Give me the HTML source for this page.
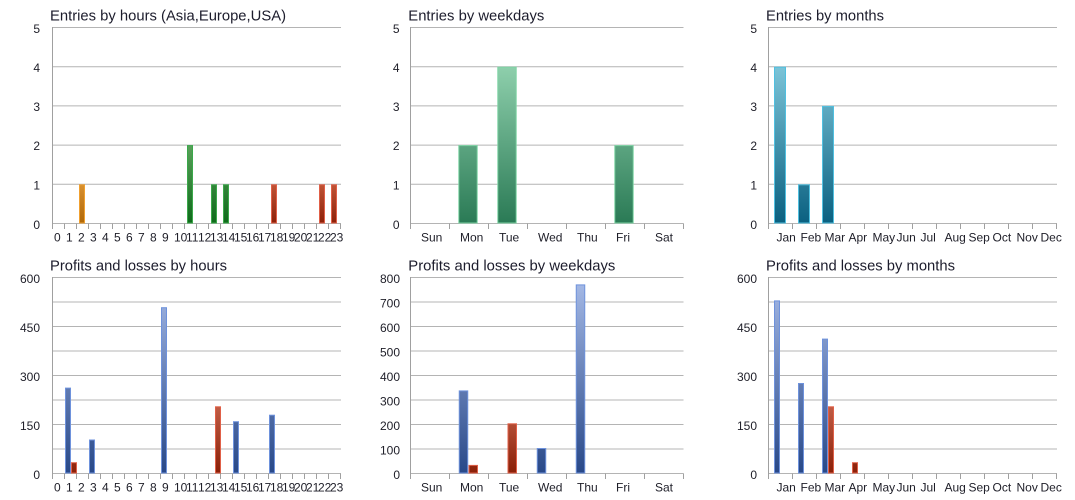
<!DOCTYPE html>
<html>
<head>
<meta charset="utf-8">
<style>
html,body{margin:0;padding:0;background:#fff;}
svg{display:block;}
.t{font-family:"Liberation Sans",Arial,sans-serif;font-size:14.5px;fill:#1c1c2c;}
.l{font-family:"Liberation Sans",Arial,sans-serif;font-size:12px;fill:#1e1e28;}
.g{stroke:#b4b4b4;stroke-width:1;fill:none;}
.a{stroke:#a0a0a0;stroke-width:1;fill:none;}
</style>
</head>
<body>
<svg width="1075" height="500" viewBox="0 0 1075 500" xmlns="http://www.w3.org/2000/svg">
<defs>
  <linearGradient id="gOr" gradientUnits="userSpaceOnUse" x1="0" y1="27.5" x2="0" y2="223.5">
    <stop offset="0" stop-color="#fcd090"/><stop offset="0.8" stop-color="#d89030"/><stop offset="1" stop-color="#b06808"/>
  </linearGradient>
  <linearGradient id="gGr" gradientUnits="userSpaceOnUse" x1="0" y1="27.5" x2="0" y2="223.5">
    <stop offset="0" stop-color="#b8e4b8"/><stop offset="0.6" stop-color="#5aa05a"/><stop offset="1" stop-color="#0e6a1a"/>
  </linearGradient>
  <linearGradient id="gRdT" gradientUnits="userSpaceOnUse" x1="0" y1="27.5" x2="0" y2="223.5">
    <stop offset="0" stop-color="#f4b0a0"/><stop offset="0.8" stop-color="#c05436"/><stop offset="1" stop-color="#8c2008"/>
  </linearGradient>
  <linearGradient id="gSg" gradientUnits="userSpaceOnUse" x1="0" y1="27.5" x2="0" y2="223.5">
    <stop offset="0" stop-color="#9cd8b8"/><stop offset="0.2" stop-color="#8ecfac"/><stop offset="1" stop-color="#2a7a55"/>
  </linearGradient>
  <linearGradient id="gTl" gradientUnits="userSpaceOnUse" x1="0" y1="27.5" x2="0" y2="223.5">
    <stop offset="0" stop-color="#90d4e6"/><stop offset="0.2" stop-color="#7cc4d8"/><stop offset="1" stop-color="#0a6080"/>
  </linearGradient>
  <linearGradient id="gBl" gradientUnits="userSpaceOnUse" x1="0" y1="277.5" x2="0" y2="473.5">
    <stop offset="0" stop-color="#a8bce8"/><stop offset="1" stop-color="#284888"/>
  </linearGradient>
  <linearGradient id="gRdB" gradientUnits="userSpaceOnUse" x1="0" y1="277.5" x2="0" y2="473.5">
    <stop offset="0" stop-color="#f4b0a0"/><stop offset="0.66" stop-color="#c05c44"/><stop offset="1" stop-color="#8a2008"/>
  </linearGradient>
</defs>

<rect x="0" y="0" width="1075" height="500" fill="#fff"/>

<!-- ===================== TOP LEFT: Entries by hours ===================== -->
<text class="t" x="50" y="20.5" textLength="236" lengthAdjust="spacingAndGlyphs">Entries by hours (Asia,Europe,USA)</text>
<g class="g">
  <line x1="52" y1="27.5" x2="341" y2="27.5"/>
  <line x1="52" y1="66.7" x2="341" y2="66.7"/>
  <line x1="52" y1="105.9" x2="341" y2="105.9"/>
  <line x1="52" y1="145.1" x2="341" y2="145.1"/>
  <line x1="52" y1="184.3" x2="341" y2="184.3"/>
  <line x1="52" y1="223.5" x2="341" y2="223.5"/>
</g>
<g class="l" text-anchor="end">
  <text x="40" y="33">5</text><text x="40" y="72">4</text><text x="40" y="111">3</text>
  <text x="40" y="150">2</text><text x="40" y="189.5">1</text><text x="40" y="229">0</text>
</g>
<g>
  <rect x="79.5" y="184.8" width="5" height="38.2" fill="url(#gOr)" stroke="#f0a030"/>
  <rect x="187.5" y="145.6" width="5" height="77.4" fill="url(#gGr)" stroke="#3aa84a"/>
  <rect x="211.5" y="184.8" width="5" height="38.2" fill="url(#gGr)" stroke="#3aa84a"/>
  <rect x="223.5" y="184.8" width="5" height="38.2" fill="url(#gGr)" stroke="#3aa84a"/>
  <rect x="271.5" y="184.8" width="5" height="38.2" fill="url(#gRdT)" stroke="#e06048"/>
  <rect x="319.5" y="184.8" width="5" height="38.2" fill="url(#gRdT)" stroke="#e06048"/>
  <rect x="331.5" y="184.8" width="5" height="38.2" fill="url(#gRdT)" stroke="#e06048"/>
</g>
<g class="a">
  <line x1="52.5" y1="27" x2="52.5" y2="229"/>
  <line x1="64.5" y1="223.5" x2="64.5" y2="229"/><line x1="76.5" y1="223.5" x2="76.5" y2="229"/>
  <line x1="88.5" y1="223.5" x2="88.5" y2="229"/><line x1="100.5" y1="223.5" x2="100.5" y2="229"/>
  <line x1="112.5" y1="223.5" x2="112.5" y2="229"/><line x1="124.5" y1="223.5" x2="124.5" y2="229"/>
  <line x1="136.5" y1="223.5" x2="136.5" y2="229"/><line x1="148.5" y1="223.5" x2="148.5" y2="229"/>
  <line x1="160.5" y1="223.5" x2="160.5" y2="229"/><line x1="172.5" y1="223.5" x2="172.5" y2="229"/>
  <line x1="184.5" y1="223.5" x2="184.5" y2="229"/><line x1="196.5" y1="223.5" x2="196.5" y2="229"/>
  <line x1="208.5" y1="223.5" x2="208.5" y2="229"/><line x1="220.5" y1="223.5" x2="220.5" y2="229"/>
  <line x1="232.5" y1="223.5" x2="232.5" y2="229"/><line x1="244.5" y1="223.5" x2="244.5" y2="229"/>
  <line x1="256.5" y1="223.5" x2="256.5" y2="229"/><line x1="268.5" y1="223.5" x2="268.5" y2="229"/>
  <line x1="280.5" y1="223.5" x2="280.5" y2="229"/><line x1="292.5" y1="223.5" x2="292.5" y2="229"/>
  <line x1="304.5" y1="223.5" x2="304.5" y2="229"/><line x1="316.5" y1="223.5" x2="316.5" y2="229"/>
  <line x1="328.5" y1="223.5" x2="328.5" y2="229"/><line x1="340.5" y1="223.5" x2="340.5" y2="229"/>
</g>
<g class="l">
  <text x="54" y="241.5">0</text><text x="66" y="241.5">1</text><text x="78" y="241.5">2</text>
  <text x="90" y="241.5">3</text><text x="102" y="241.5">4</text><text x="114" y="241.5">5</text>
  <text x="126" y="241.5">6</text><text x="138" y="241.5">7</text><text x="150" y="241.5">8</text>
  <text x="162" y="241.5">9</text><text x="174" y="241.5">10</text><text x="186" y="241.5">11</text>
  <text x="198" y="241.5">12</text><text x="210" y="241.5">13</text><text x="222" y="241.5">14</text>
  <text x="234" y="241.5">15</text><text x="246" y="241.5">16</text><text x="258" y="241.5">17</text>
  <text x="270" y="241.5">18</text><text x="282" y="241.5">19</text><text x="294" y="241.5">20</text>
  <text x="306" y="241.5">21</text><text x="318" y="241.5">22</text><text x="330" y="241.5">23</text>
</g>

<!-- ===================== TOP MIDDLE: Entries by weekdays ===================== -->
<text class="t" x="408.3" y="20.5" textLength="136" lengthAdjust="spacingAndGlyphs">Entries by weekdays</text>
<g class="g">
  <line x1="410" y1="27.5" x2="683.5" y2="27.5"/>
  <line x1="410" y1="66.7" x2="683.5" y2="66.7"/>
  <line x1="410" y1="105.9" x2="683.5" y2="105.9"/>
  <line x1="410" y1="145.1" x2="683.5" y2="145.1"/>
  <line x1="410" y1="184.3" x2="683.5" y2="184.3"/>
  <line x1="410" y1="223.5" x2="683.5" y2="223.5"/>
</g>
<g class="l" text-anchor="end">
  <text x="399.5" y="33">5</text><text x="399.5" y="72">4</text><text x="399.5" y="111">3</text>
  <text x="399.5" y="150">2</text><text x="399.5" y="189.5">1</text><text x="399.5" y="229">0</text>
</g>
<g>
  <rect x="458.8" y="145.6" width="18.4" height="77.4" fill="url(#gSg)" stroke="#7dd4a4"/>
  <rect x="497.8" y="67.2" width="18.4" height="155.8" fill="url(#gSg)" stroke="#7dd4a4"/>
  <rect x="614.8" y="145.6" width="18.4" height="77.4" fill="url(#gSg)" stroke="#7dd4a4"/>
</g>
<g class="a">
  <line x1="410.5" y1="27" x2="410.5" y2="229"/>
  <line x1="449.5" y1="223.5" x2="449.5" y2="229"/><line x1="488.5" y1="223.5" x2="488.5" y2="229"/>
  <line x1="527.5" y1="223.5" x2="527.5" y2="229"/><line x1="566.5" y1="223.5" x2="566.5" y2="229"/>
  <line x1="605.5" y1="223.5" x2="605.5" y2="229"/><line x1="644.5" y1="223.5" x2="644.5" y2="229"/>
  <line x1="683.5" y1="223.5" x2="683.5" y2="229"/>
</g>
<g class="l">
  <text x="421" y="241.5">Sun</text><text x="460" y="241.5">Mon</text><text x="499" y="241.5">Tue</text>
  <text x="538" y="241.5">Wed</text><text x="577" y="241.5">Thu</text><text x="616" y="241.5">Fri</text>
  <text x="655" y="241.5">Sat</text>
</g>

<!-- ===================== TOP RIGHT: Entries by months ===================== -->
<text class="t" x="766" y="20.5" textLength="118" lengthAdjust="spacingAndGlyphs">Entries by months</text>
<g class="g">
  <line x1="768" y1="27.5" x2="1057" y2="27.5"/>
  <line x1="768" y1="66.7" x2="1057" y2="66.7"/>
  <line x1="768" y1="105.9" x2="1057" y2="105.9"/>
  <line x1="768" y1="145.1" x2="1057" y2="145.1"/>
  <line x1="768" y1="184.3" x2="1057" y2="184.3"/>
  <line x1="768" y1="223.5" x2="1057" y2="223.5"/>
</g>
<g class="l" text-anchor="end">
  <text x="757" y="33">5</text><text x="757" y="72">4</text><text x="757" y="111">3</text>
  <text x="757" y="150">2</text><text x="757" y="189.5">1</text><text x="757" y="229">0</text>
</g>
<g>
  <rect x="774.5" y="67.2" width="11" height="155.8" fill="url(#gTl)" stroke="#50c0e0"/>
  <rect x="798.5" y="184.8" width="11" height="38.2" fill="url(#gTl)" stroke="#50c0e0"/>
  <rect x="822.5" y="106.4" width="11" height="116.6" fill="url(#gTl)" stroke="#50c0e0"/>
</g>
<g class="a">
  <line x1="768.5" y1="27" x2="768.5" y2="229"/>
  <line x1="792.5" y1="223.5" x2="792.5" y2="229"/><line x1="816.5" y1="223.5" x2="816.5" y2="229"/>
  <line x1="840.5" y1="223.5" x2="840.5" y2="229"/><line x1="864.5" y1="223.5" x2="864.5" y2="229"/>
  <line x1="888.5" y1="223.5" x2="888.5" y2="229"/><line x1="912.5" y1="223.5" x2="912.5" y2="229"/>
  <line x1="936.5" y1="223.5" x2="936.5" y2="229"/><line x1="960.5" y1="223.5" x2="960.5" y2="229"/>
  <line x1="984.5" y1="223.5" x2="984.5" y2="229"/><line x1="1008.5" y1="223.5" x2="1008.5" y2="229"/>
  <line x1="1032.5" y1="223.5" x2="1032.5" y2="229"/><line x1="1056.5" y1="223.5" x2="1056.5" y2="229"/>
</g>
<g class="l">
  <text x="776.5" y="241.5">Jan</text><text x="800.5" y="241.5">Feb</text><text x="824.5" y="241.5">Mar</text>
  <text x="848.5" y="241.5">Apr</text><text x="872.5" y="241.5">May</text><text x="896.5" y="241.5">Jun</text>
  <text x="920.5" y="241.5">Jul</text><text x="944.5" y="241.5">Aug</text><text x="968.5" y="241.5">Sep</text>
  <text x="992.5" y="241.5">Oct</text><text x="1016.5" y="241.5">Nov</text><text x="1040.5" y="241.5">Dec</text>
</g>

<!-- ===================== BOTTOM LEFT: Profits and losses by hours ===================== -->
<text class="t" x="50" y="270.5" textLength="177" lengthAdjust="spacingAndGlyphs">Profits and losses by hours</text>
<g class="g">
  <line x1="52" y1="277.5" x2="341" y2="277.5"/>
  <line x1="52" y1="302" x2="341" y2="302"/>
  <line x1="52" y1="326.5" x2="341" y2="326.5"/>
  <line x1="52" y1="351" x2="341" y2="351"/>
  <line x1="52" y1="375.5" x2="341" y2="375.5"/>
  <line x1="52" y1="400" x2="341" y2="400"/>
  <line x1="52" y1="424.5" x2="341" y2="424.5"/>
  <line x1="52" y1="449" x2="341" y2="449"/>
  <line x1="52" y1="473.5" x2="341" y2="473.5"/>
</g>
<g class="l" text-anchor="end">
  <text x="40" y="283">600</text><text x="40" y="332">450</text><text x="40" y="381">300</text>
  <text x="40" y="430">150</text><text x="40" y="479">0</text>
</g>
<g>
  <rect x="65.5" y="388.1" width="5" height="84.9" fill="url(#gBl)" stroke="#6e92dc"/>
  <rect x="71.5" y="462.7" width="5" height="10.3" fill="url(#gRdB)" stroke="#e06048"/>
  <rect x="89.5" y="440" width="5" height="33" fill="url(#gBl)" stroke="#6e92dc"/>
  <rect x="161.5" y="307.7" width="5" height="165.3" fill="url(#gBl)" stroke="#6e92dc"/>
  <rect x="215.5" y="406.8" width="5" height="66.2" fill="url(#gRdB)" stroke="#e06048"/>
  <rect x="233.5" y="421.7" width="5" height="51.3" fill="url(#gBl)" stroke="#6e92dc"/>
  <rect x="269.5" y="415.2" width="5" height="57.8" fill="url(#gBl)" stroke="#6e92dc"/>
</g>
<g class="a">
  <line x1="52.5" y1="277" x2="52.5" y2="479"/>
  <line x1="64.5" y1="473.5" x2="64.5" y2="479"/><line x1="76.5" y1="473.5" x2="76.5" y2="479"/>
  <line x1="88.5" y1="473.5" x2="88.5" y2="479"/><line x1="100.5" y1="473.5" x2="100.5" y2="479"/>
  <line x1="112.5" y1="473.5" x2="112.5" y2="479"/><line x1="124.5" y1="473.5" x2="124.5" y2="479"/>
  <line x1="136.5" y1="473.5" x2="136.5" y2="479"/><line x1="148.5" y1="473.5" x2="148.5" y2="479"/>
  <line x1="160.5" y1="473.5" x2="160.5" y2="479"/><line x1="172.5" y1="473.5" x2="172.5" y2="479"/>
  <line x1="184.5" y1="473.5" x2="184.5" y2="479"/><line x1="196.5" y1="473.5" x2="196.5" y2="479"/>
  <line x1="208.5" y1="473.5" x2="208.5" y2="479"/><line x1="220.5" y1="473.5" x2="220.5" y2="479"/>
  <line x1="232.5" y1="473.5" x2="232.5" y2="479"/><line x1="244.5" y1="473.5" x2="244.5" y2="479"/>
  <line x1="256.5" y1="473.5" x2="256.5" y2="479"/><line x1="268.5" y1="473.5" x2="268.5" y2="479"/>
  <line x1="280.5" y1="473.5" x2="280.5" y2="479"/><line x1="292.5" y1="473.5" x2="292.5" y2="479"/>
  <line x1="304.5" y1="473.5" x2="304.5" y2="479"/><line x1="316.5" y1="473.5" x2="316.5" y2="479"/>
  <line x1="328.5" y1="473.5" x2="328.5" y2="479"/><line x1="340.5" y1="473.5" x2="340.5" y2="479"/>
</g>
<g class="l">
  <text x="54" y="491.5">0</text><text x="66" y="491.5">1</text><text x="78" y="491.5">2</text>
  <text x="90" y="491.5">3</text><text x="102" y="491.5">4</text><text x="114" y="491.5">5</text>
  <text x="126" y="491.5">6</text><text x="138" y="491.5">7</text><text x="150" y="491.5">8</text>
  <text x="162" y="491.5">9</text><text x="174" y="491.5">10</text><text x="186" y="491.5">11</text>
  <text x="198" y="491.5">12</text><text x="210" y="491.5">13</text><text x="222" y="491.5">14</text>
  <text x="234" y="491.5">15</text><text x="246" y="491.5">16</text><text x="258" y="491.5">17</text>
  <text x="270" y="491.5">18</text><text x="282" y="491.5">19</text><text x="294" y="491.5">20</text>
  <text x="306" y="491.5">21</text><text x="318" y="491.5">22</text><text x="330" y="491.5">23</text>
</g>

<!-- ===================== BOTTOM MIDDLE: Profits and losses by weekdays ===================== -->
<text class="t" x="408.3" y="270.5" textLength="207" lengthAdjust="spacingAndGlyphs">Profits and losses by weekdays</text>
<g class="g">
  <line x1="410" y1="277.5" x2="683.5" y2="277.5"/>
  <line x1="410" y1="302" x2="683.5" y2="302"/>
  <line x1="410" y1="326.5" x2="683.5" y2="326.5"/>
  <line x1="410" y1="351" x2="683.5" y2="351"/>
  <line x1="410" y1="375.5" x2="683.5" y2="375.5"/>
  <line x1="410" y1="400" x2="683.5" y2="400"/>
  <line x1="410" y1="424.5" x2="683.5" y2="424.5"/>
  <line x1="410" y1="449" x2="683.5" y2="449"/>
  <line x1="410" y1="473.5" x2="683.5" y2="473.5"/>
</g>
<g class="l" text-anchor="end">
  <text x="400" y="283">800</text><text x="400" y="307.5">700</text><text x="400" y="332">600</text>
  <text x="400" y="356.5">500</text><text x="400" y="381">400</text><text x="400" y="405.5">300</text>
  <text x="400" y="430">200</text><text x="400" y="454.5">100</text><text x="400" y="479">0</text>
</g>
<g>
  <rect x="459.25" y="390.9" width="8.5" height="82.1" fill="url(#gBl)" stroke="#6e92dc"/>
  <rect x="469" y="465.4" width="8.5" height="7.6" fill="url(#gRdB)" stroke="#e06048"/>
  <rect x="508" y="423.8" width="8.5" height="49.2" fill="url(#gRdB)" stroke="#e06048"/>
  <rect x="537.25" y="448.5" width="8.5" height="24.5" fill="url(#gBl)" stroke="#6e92dc"/>
  <rect x="576.25" y="284.9" width="8.5" height="188.1" fill="url(#gBl)" stroke="#6e92dc"/>
</g>
<g class="a">
  <line x1="410.5" y1="277" x2="410.5" y2="479"/>
  <line x1="449.5" y1="473.5" x2="449.5" y2="479"/><line x1="488.5" y1="473.5" x2="488.5" y2="479"/>
  <line x1="527.5" y1="473.5" x2="527.5" y2="479"/><line x1="566.5" y1="473.5" x2="566.5" y2="479"/>
  <line x1="605.5" y1="473.5" x2="605.5" y2="479"/><line x1="644.5" y1="473.5" x2="644.5" y2="479"/>
  <line x1="683.5" y1="473.5" x2="683.5" y2="479"/>
</g>
<g class="l">
  <text x="421" y="491.5">Sun</text><text x="460" y="491.5">Mon</text><text x="499" y="491.5">Tue</text>
  <text x="538" y="491.5">Wed</text><text x="577" y="491.5">Thu</text><text x="616" y="491.5">Fri</text>
  <text x="655" y="491.5">Sat</text>
</g>

<!-- ===================== BOTTOM RIGHT: Profits and losses by months ===================== -->
<text class="t" x="766" y="270.5" textLength="189" lengthAdjust="spacingAndGlyphs">Profits and losses by months</text>
<g class="g">
  <line x1="768" y1="277.5" x2="1057" y2="277.5"/>
  <line x1="768" y1="302" x2="1057" y2="302"/>
  <line x1="768" y1="326.5" x2="1057" y2="326.5"/>
  <line x1="768" y1="351" x2="1057" y2="351"/>
  <line x1="768" y1="375.5" x2="1057" y2="375.5"/>
  <line x1="768" y1="400" x2="1057" y2="400"/>
  <line x1="768" y1="424.5" x2="1057" y2="424.5"/>
  <line x1="768" y1="449" x2="1057" y2="449"/>
  <line x1="768" y1="473.5" x2="1057" y2="473.5"/>
</g>
<g class="l" text-anchor="end">
  <text x="757" y="283">600</text><text x="757" y="332">450</text><text x="757" y="381">300</text>
  <text x="757" y="430">150</text><text x="757" y="479">0</text>
</g>
<g>
  <rect x="774.5" y="300.9" width="5" height="172.1" fill="url(#gBl)" stroke="#6e92dc"/>
  <rect x="798.5" y="383.5" width="5" height="89.5" fill="url(#gBl)" stroke="#6e92dc"/>
  <rect x="822.5" y="339.1" width="5" height="133.9" fill="url(#gBl)" stroke="#6e92dc"/>
  <rect x="828.5" y="406.8" width="5" height="66.2" fill="url(#gRdB)" stroke="#e06048"/>
  <rect x="852.5" y="462.7" width="5" height="10.3" fill="url(#gRdB)" stroke="#e06048"/>
</g>
<g class="a">
  <line x1="768.5" y1="277" x2="768.5" y2="479"/>
  <line x1="792.5" y1="473.5" x2="792.5" y2="479"/><line x1="816.5" y1="473.5" x2="816.5" y2="479"/>
  <line x1="840.5" y1="473.5" x2="840.5" y2="479"/><line x1="864.5" y1="473.5" x2="864.5" y2="479"/>
  <line x1="888.5" y1="473.5" x2="888.5" y2="479"/><line x1="912.5" y1="473.5" x2="912.5" y2="479"/>
  <line x1="936.5" y1="473.5" x2="936.5" y2="479"/><line x1="960.5" y1="473.5" x2="960.5" y2="479"/>
  <line x1="984.5" y1="473.5" x2="984.5" y2="479"/><line x1="1008.5" y1="473.5" x2="1008.5" y2="479"/>
  <line x1="1032.5" y1="473.5" x2="1032.5" y2="479"/><line x1="1056.5" y1="473.5" x2="1056.5" y2="479"/>
</g>
<g class="l">
  <text x="776.5" y="491.5">Jan</text><text x="800.5" y="491.5">Feb</text><text x="824.5" y="491.5">Mar</text>
  <text x="848.5" y="491.5">Apr</text><text x="872.5" y="491.5">May</text><text x="896.5" y="491.5">Jun</text>
  <text x="920.5" y="491.5">Jul</text><text x="944.5" y="491.5">Aug</text><text x="968.5" y="491.5">Sep</text>
  <text x="992.5" y="491.5">Oct</text><text x="1016.5" y="491.5">Nov</text><text x="1040.5" y="491.5">Dec</text>
</g>
</svg>
</body>
</html>
